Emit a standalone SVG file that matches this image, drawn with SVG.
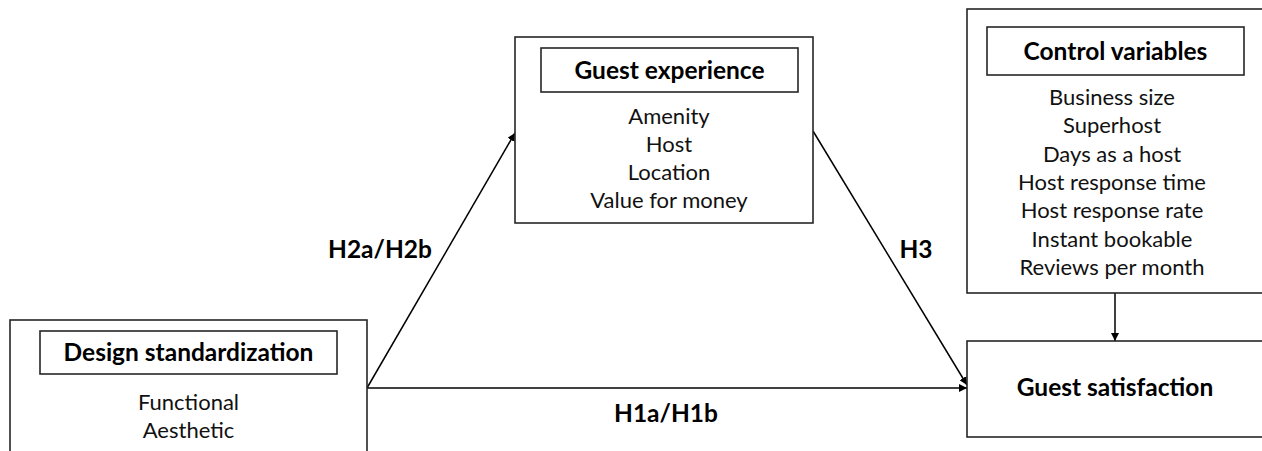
<svg xmlns="http://www.w3.org/2000/svg" width="1262" height="451" viewBox="0 0 1262 451">
<style>
.box{fill:#fff;stroke:#262626;stroke-width:1.6}
.t{font-family:Lato,"Liberation Sans",sans-serif;font-weight:700;font-size:24.5px;fill:#000;text-anchor:middle}
.b{font-family:Lato,"Liberation Sans",sans-serif;font-size:22px;fill:#111;text-anchor:middle}
.c{stroke:#000;stroke-width:1.5;fill:none;marker-end:url(#ah)}
</style>
<defs>
<marker id="ah" viewBox="0 0 10 10" refX="10" refY="5" markerWidth="8" markerHeight="8" markerUnits="userSpaceOnUse" orient="auto"><path d="M0,0 L10,5 L0,10 z" fill="#000"/></marker>
</defs>
<rect width="1262" height="451" fill="#fff"/>
<g id="connectors">
<line class="c" x1="367" y1="388" x2="515" y2="133"/>
<line class="c" x1="367" y1="388" x2="967" y2="388"/>
<line class="c" x1="813" y1="131" x2="967" y2="385"/>
<line class="c" x1="1115" y1="293" x2="1115" y2="341"/>
<text class="t" x="380" y="258">H2a/H2b</text>
<text class="t" x="916" y="258">H3</text>
<text class="t" x="666" y="422">H1a/H1b</text>
</g>
<g id="design">
<rect class="box" x="10" y="320" width="357" height="200"/>
<rect class="box" x="40" y="331" width="297" height="43"/>
<text class="t" x="188.5" y="361">Design standardization</text>
<text class="b" x="188.5" y="410">Functional</text>
<text class="b" x="188.5" y="438">Aesthetic</text>
</g>
<g id="experience">
<rect class="box" x="515" y="37" width="298" height="186"/>
<rect class="box" x="541" y="48" width="257" height="44"/>
<text class="t" x="669.5" y="78.5">Guest experience</text>
<text class="b" x="669" y="124">Amenity</text>
<text class="b" x="669" y="152">Host</text>
<text class="b" x="669" y="180">Location</text>
<text class="b" x="669" y="208">Value for money</text>
</g>
<g id="control">
<rect class="box" x="967" y="9" width="400" height="284"/>
<rect class="box" x="987" y="27" width="257" height="48"/>
<text class="t" x="1115.5" y="59.5">Control variables</text>
<text class="b" x="1112" y="105">Business size</text>
<text class="b" x="1112" y="133">Superhost</text>
<text class="b" x="1112" y="162">Days as a host</text>
<text class="b" x="1112" y="190">Host response time</text>
<text class="b" x="1112" y="218">Host response rate</text>
<text class="b" x="1112" y="247">Instant bookable</text>
<text class="b" x="1112" y="275">Reviews per month</text>
</g>
<g id="satisfaction">
<rect class="box" x="967" y="341" width="400" height="96"/>
<text class="t" x="1115" y="396">Guest satisfaction</text>
</g>
</svg>
